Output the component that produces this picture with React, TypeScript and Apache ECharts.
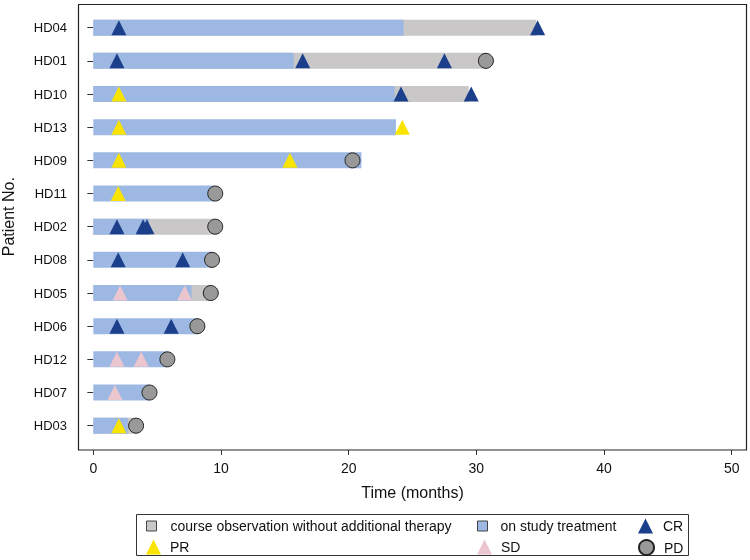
import React, { useEffect, useRef } from "react";
import * as echarts from "echarts";

const patients = ["HD04", "HD01", "HD10", "HD13", "HD09", "HD11", "HD02", "HD08", "HD05", "HD06", "HD12", "HD07", "HD03"];
// months on study treatment (blue)
const treatmentEnd = [24.3, 15.7, 23.6, 23.7, 21.0, 9.5, 4.35, 9.3, 7.7, 8.2, 5.8, 4.4, 2.7];
// months until end of course observation without additional therapy (grey)
const observationEnd: (number | null)[] = [34.7, 30.8, 29.4, null, null, null, 9.6, null, 9.2, null, null, null, 3.4];

const crEvents: [string, number][] = [
  ["HD04", 2.0], ["HD04", 34.8],
  ["HD01", 1.85], ["HD01", 16.4], ["HD01", 27.5],
  ["HD10", 24.1], ["HD10", 29.6],
  ["HD02", 1.85], ["HD02", 3.9], ["HD02", 4.2],
  ["HD08", 1.95], ["HD08", 7.0],
  ["HD06", 1.85], ["HD06", 6.1],
];
const prEvents: [string, number][] = [
  ["HD10", 2.0], ["HD13", 2.0], ["HD13", 24.2],
  ["HD09", 2.0], ["HD09", 15.4], ["HD11", 1.95], ["HD03", 2.0],
];
const sdEvents: [string, number][] = [
  ["HD05", 2.1], ["HD05", 7.15], ["HD12", 1.85], ["HD12", 3.75], ["HD07", 1.7],
];
const pdEvents: [string, number][] = [
  ["HD01", 30.75], ["HD09", 20.3], ["HD11", 9.55], ["HD02", 9.55], ["HD08", 9.3],
  ["HD05", 9.2], ["HD06", 8.15], ["HD12", 5.8], ["HD07", 4.4], ["HD03", 3.35],
];
const xTicks = [0, 10, 20, 30, 40, 50];

const COLORS = {
  treat: "#9db8e2",
  obs: "#c9c7c7",
  cr: "#1b3f8b",
  pr: "#f8e400",
  sd: "#ecc6cf",
  pd: "#999999",
};

const FONT = "'Liberation Sans', Arial, sans-serif";

export default function App() {
  const ref = useRef<HTMLDivElement>(null);
  useEffect(() => {
    if (!ref.current) return;
    const chart = echarts.init(ref.current, undefined, { renderer: "svg" });
    const toPts = (ev: [string, number][]) => ev.map(([p, m]) => [m, p]);
    const legendBase = {
      orient: "horizontal",
      selectedMode: false,
      padding: 0,
      itemGap: 0,
      textStyle: { fontSize: 14, color: "#111", fontFamily: FONT, lineHeight: 16 },
    };
    const row1 = 518;
    const row2 = 539;
    const option: any = {
      animation: false,
      textStyle: { fontFamily: FONT },
      grid: { left: 78, right: 3, top: 27.7, bottom: 134.3, containLabel: false, outerBoundsMode: "none" },
      xAxis: {
        type: "value",
        min: -1.2,
        max: 51.2,
        offset: 24.3,
        axisLine: { show: false },
        splitLine: { show: false },
        axisTick: { show: true, length: 5, customValues: xTicks, lineStyle: { color: "#333" } },
        axisLabel: { customValues: xTicks, margin: 11, fontSize: 14, color: "#111", fontFamily: "'Liberation Sans Narrow', 'Liberation Sans', Arial, sans-serif" },
        name: "Time (months)",
        nameLocation: "middle",
        nameGap: 34,
        nameTextStyle: { fontSize: 16, color: "#111" },
      },
      yAxis: {
        type: "category",
        data: patients,
        inverse: true,
        boundaryGap: false,
        axisLine: { show: false },
        splitLine: { show: false },
        axisTick: { show: true, length: 6, lineStyle: { color: "#333" } },
        axisLabel: { margin: 11, fontSize: 13, color: "#111" },
        name: "Patient No.",
        nameLocation: "middle",
        nameRotate: 90,
        nameGap: 62,
        nameTextStyle: { fontSize: 16, color: "#111", padding: [0, 0, 0, 20] },
      },
      legend: [
        { ...legendBase, left: 146, top: row1, itemWidth: 10, itemHeight: 10,
          data: [{ name: "course observation without additional therapy", icon: "rect", itemStyle: { color: COLORS.obs, borderColor: "#444", borderWidth: 1 }, textStyle: { padding: [0, 0, 0, 9] } }] },
        { ...legendBase, left: 477, top: row1, itemWidth: 10, itemHeight: 10,
          data: [{ name: "on study treatment", icon: "rect", itemStyle: { color: COLORS.treat, borderColor: "#444", borderWidth: 1 }, textStyle: { padding: [0, 0, 0, 8] } }] },
        { ...legendBase, left: 638, top: row1, itemWidth: 15, itemHeight: 15,
          data: [{ name: "CR", icon: "triangle", textStyle: { padding: [0, 0, 0, 5] } }] },
        { ...legendBase, left: 146, top: row2, itemWidth: 15, itemHeight: 15,
          data: [{ name: "PR", icon: "triangle", textStyle: { padding: [0, 0, 0, 4] } }] },
        { ...legendBase, left: 477, top: row2, itemWidth: 15, itemHeight: 15,
          data: [{ name: "SD", icon: "triangle", textStyle: { padding: [0, 0, 0, 4] } }] },
        { ...legendBase, left: 638, top: row2, itemWidth: 15, itemHeight: 15,
          data: [{ name: "PD", icon: "circle", textStyle: { padding: [0, 0, 0, 5] } }] },
      ],
      graphic: [
        { type: "rect", silent: true, shape: { x: 78.5, y: 4.5, width: 668, height: 445.5 }, style: { fill: "none", stroke: "#222", lineWidth: 1.2 } },
        { type: "rect", silent: true, shape: { x: 136.5, y: 514.5, width: 552, height: 41 }, style: { fill: "none", stroke: "#333", lineWidth: 1 } },
      ],
      series: [
        {
          name: "course observation without additional therapy",
          type: "bar",
          data: observationEnd,
          barWidth: 16,
          barGap: "-100%",
          itemStyle: { color: COLORS.obs },
        },
        {
          name: "on study treatment",
          type: "bar",
          data: treatmentEnd,
          barWidth: 16,
          barGap: "-100%",
          itemStyle: { color: COLORS.treat },
        },
        { name: "CR", type: "scatter", symbol: "triangle", symbolSize: 15, data: toPts(crEvents), itemStyle: { color: COLORS.cr, opacity: 1 } },
        { name: "PR", type: "scatter", symbol: "triangle", symbolSize: 15, data: toPts(prEvents), itemStyle: { color: COLORS.pr, opacity: 1 } },
        { name: "SD", type: "scatter", symbol: "triangle", symbolSize: 15, data: toPts(sdEvents), itemStyle: { color: COLORS.sd, opacity: 1 } },
        { name: "PD", type: "scatter", symbol: "circle", symbolSize: 15, data: toPts(pdEvents), itemStyle: { color: COLORS.pd, borderColor: "#222", borderWidth: 1, opacity: 1 } },
      ],
    };
    chart.setOption(option);
    return () => chart.dispose();
  }, []);
  return <div ref={ref} style={{ position: "fixed", left: 0, top: 0, width: 750, height: 560 }} />;
}
